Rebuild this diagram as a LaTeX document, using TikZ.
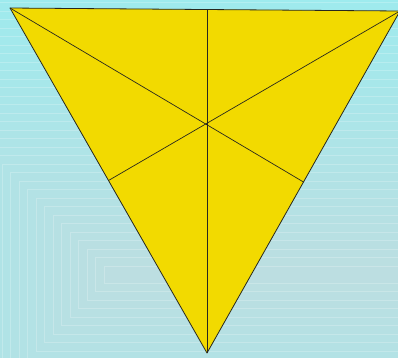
\documentclass[tikz,border=0pt]{standalone}
\usepackage{xcolor}
\usepackage{tikz}
\usetikzlibrary{calc}
\definecolor{bgouter}{RGB}{157, 235, 238}
\definecolor{bginner}{RGB}{188, 222, 225}
\definecolor{triyellow}{RGB}{242, 218, 0}
\definecolor{edgeline}{RGB}{40, 40, 30}

\begin{document}
\begin{tikzpicture}[x=1pt, y=-1pt]
		\useasboundingbox (0,0) rectangle (398,357);
		\clip (0,0) rectangle (398,357);
		% background bands
		\fill[bgouter] (0,0) rectangle (398,357);
		\foreach \k in {34,33,...,1} {
			\pgfmathsetmacro{\d}{8.5*\k}
			\pgfmathtruncatemacro{\p}{100*(34-\k)/33}
			\fill[bginner!\p!bgouter] (112.5-\d, 274.7-\d) rectangle (520, 274.7+\d);
			\draw[white, opacity=0.22, line width=0.5pt] (112.5-\d, 274.7-\d) rectangle (520, 274.7+\d);
		}
		
		\coordinate (A) at (10, 8);
		\coordinate (C) at (400, 11);
		\coordinate (B) at (207, 353);
		\coordinate (mAC) at ($(A)!0.5!(C)$);
		
		\fill[triyellow] (A) -- (C) -- (B) -- cycle;
		\draw[edgeline, line width=0.8pt, line join=round] (A) -- (C) -- (B) -- cycle;
		
		% medians
		\draw[edgeline, line width=0.7pt] (A) -- ($(B)!0.5!(C)$);
		\draw[edgeline, line width=0.7pt] (C) -- ($(A)!0.5!(B)$);
		\draw[edgeline, line width=0.7pt] (B) -- (B |- mAC);
	\end{tikzpicture}
\end{document}
